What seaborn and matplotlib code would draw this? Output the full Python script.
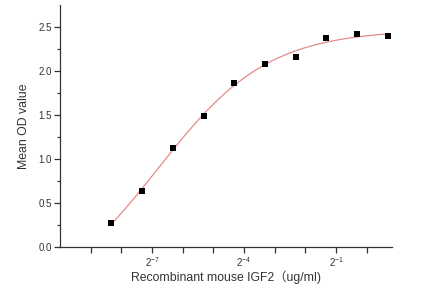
import numpy as np
import pandas as pd
import matplotlib
matplotlib.use("Agg")
import matplotlib.pyplot as plt
import seaborn as sns
from matplotlib.ticker import FixedLocator, FuncFormatter, NullFormatter

# Data
conc = [0.003125, 0.00625, 0.0125, 0.025, 0.05, 0.1, 0.2, 0.4, 0.8, 1.6]
od = [0.27, 0.64, 1.13, 1.485, 1.865, 2.08, 2.155, 2.37, 2.415, 2.40]
xlabel = "Recombinant mouse IGF2（ug/ml)"
ylabel = "Mean OD value"

# 4-parameter logistic fit (in log2 concentration) via Levenberg-Marquardt
lx = np.log2(np.array(conc))
yv = np.array(od)

def model(p, t):
    lo, hi, m, s = p
    return lo + (hi - lo) / (1.0 + np.exp(-s * (t - m)))

p = np.array([0.0, 2.45, -6.0, 1.0])
lam = 1e-2
for _ in range(500):
    r = yv - model(p, lx)
    J = np.zeros((len(lx), 4))
    for k in range(4):
        dp = np.zeros(4); dp[k] = 1e-6
        J[:, k] = (model(p + dp, lx) - model(p, lx)) / 1e-6
    A = J.T @ J
    step = np.linalg.solve(A + lam * np.diag(np.diag(A)), J.T @ r)
    pn = p + step
    if np.sum((yv - model(pn, lx)) ** 2) < np.sum(r ** 2):
        p = pn; lam *= 0.5
    else:
        lam *= 4
tt = np.linspace(lx.min(), lx.max(), 300)
curve = pd.DataFrame({"x": 2.0 ** tt, "y": model(p, tt)})
pts = pd.DataFrame({"x": conc, "y": od})

sns.set_style("ticks")
plt.rcParams["font.family"] = ["Liberation Sans", "Noto Sans CJK SC", "DejaVu Sans"]
plt.rcParams["mathtext.fontset"] = "custom"
plt.rcParams["mathtext.rm"] = "Liberation Sans"

fig = plt.figure(figsize=(4.21, 2.88), dpi=100)
ax = fig.add_axes([0.1425, 0.1424, 0.7885, 0.8402])

sns.lineplot(data=curve, x="x", y="y", ax=ax, color="#e58a8a", linewidth=0.9)
sns.scatterplot(data=pts, x="x", y="y", ax=ax, marker="s", color="black",
                s=17, edgecolor="black", linewidth=0, zorder=3)

ax.set_xscale("log", base=2)
ax.set_xlim(2.0 ** -10.0, 2.0 ** 0.82)
ax.set_ylim(0, 2.75)

ax.xaxis.set_major_locator(FixedLocator([2.0 ** -7, 2.0 ** -4, 2.0 ** -1]))
ax.xaxis.set_major_formatter(FuncFormatter(lambda v, _: r"$2^{%d}$" % round(np.log2(v))))
ax.xaxis.set_minor_locator(FixedLocator([2.0 ** k for k in [-9, -8, -6, -5, -3, -2, 0]]))
ax.xaxis.set_minor_formatter(NullFormatter())
ax.set_yticks([0, 0.5, 1.0, 1.5, 2.0, 2.5])
ax.yaxis.set_major_formatter(FuncFormatter(lambda v, _: "%.1f" % v))
ax.set_yticks(np.arange(0.25, 2.75, 0.5), minor=True)

for s in ["top", "right"]:
    ax.spines[s].set_visible(False)
for s in ["left", "bottom"]:
    ax.spines[s].set_color("#333333")
    ax.spines[s].set_linewidth(0.9)

ax.tick_params(axis="both", which="major", direction="out", length=4, width=0.9,
               color="#333333", labelsize=7, labelcolor="#333333", pad=2)
ax.tick_params(axis="both", which="minor", direction="out", length=2.5, width=0.9,
               color="#333333")
ax.tick_params(axis="x", which="minor", length=4)
ax.tick_params(axis="x", which="major", pad=2)

ax.set_xlabel(xlabel, fontsize=8.8, color="#333333", labelpad=1)
ax.set_ylabel(ylabel, fontsize=8.8, color="#333333", labelpad=6)

fig.savefig("out.png", dpi=100)
